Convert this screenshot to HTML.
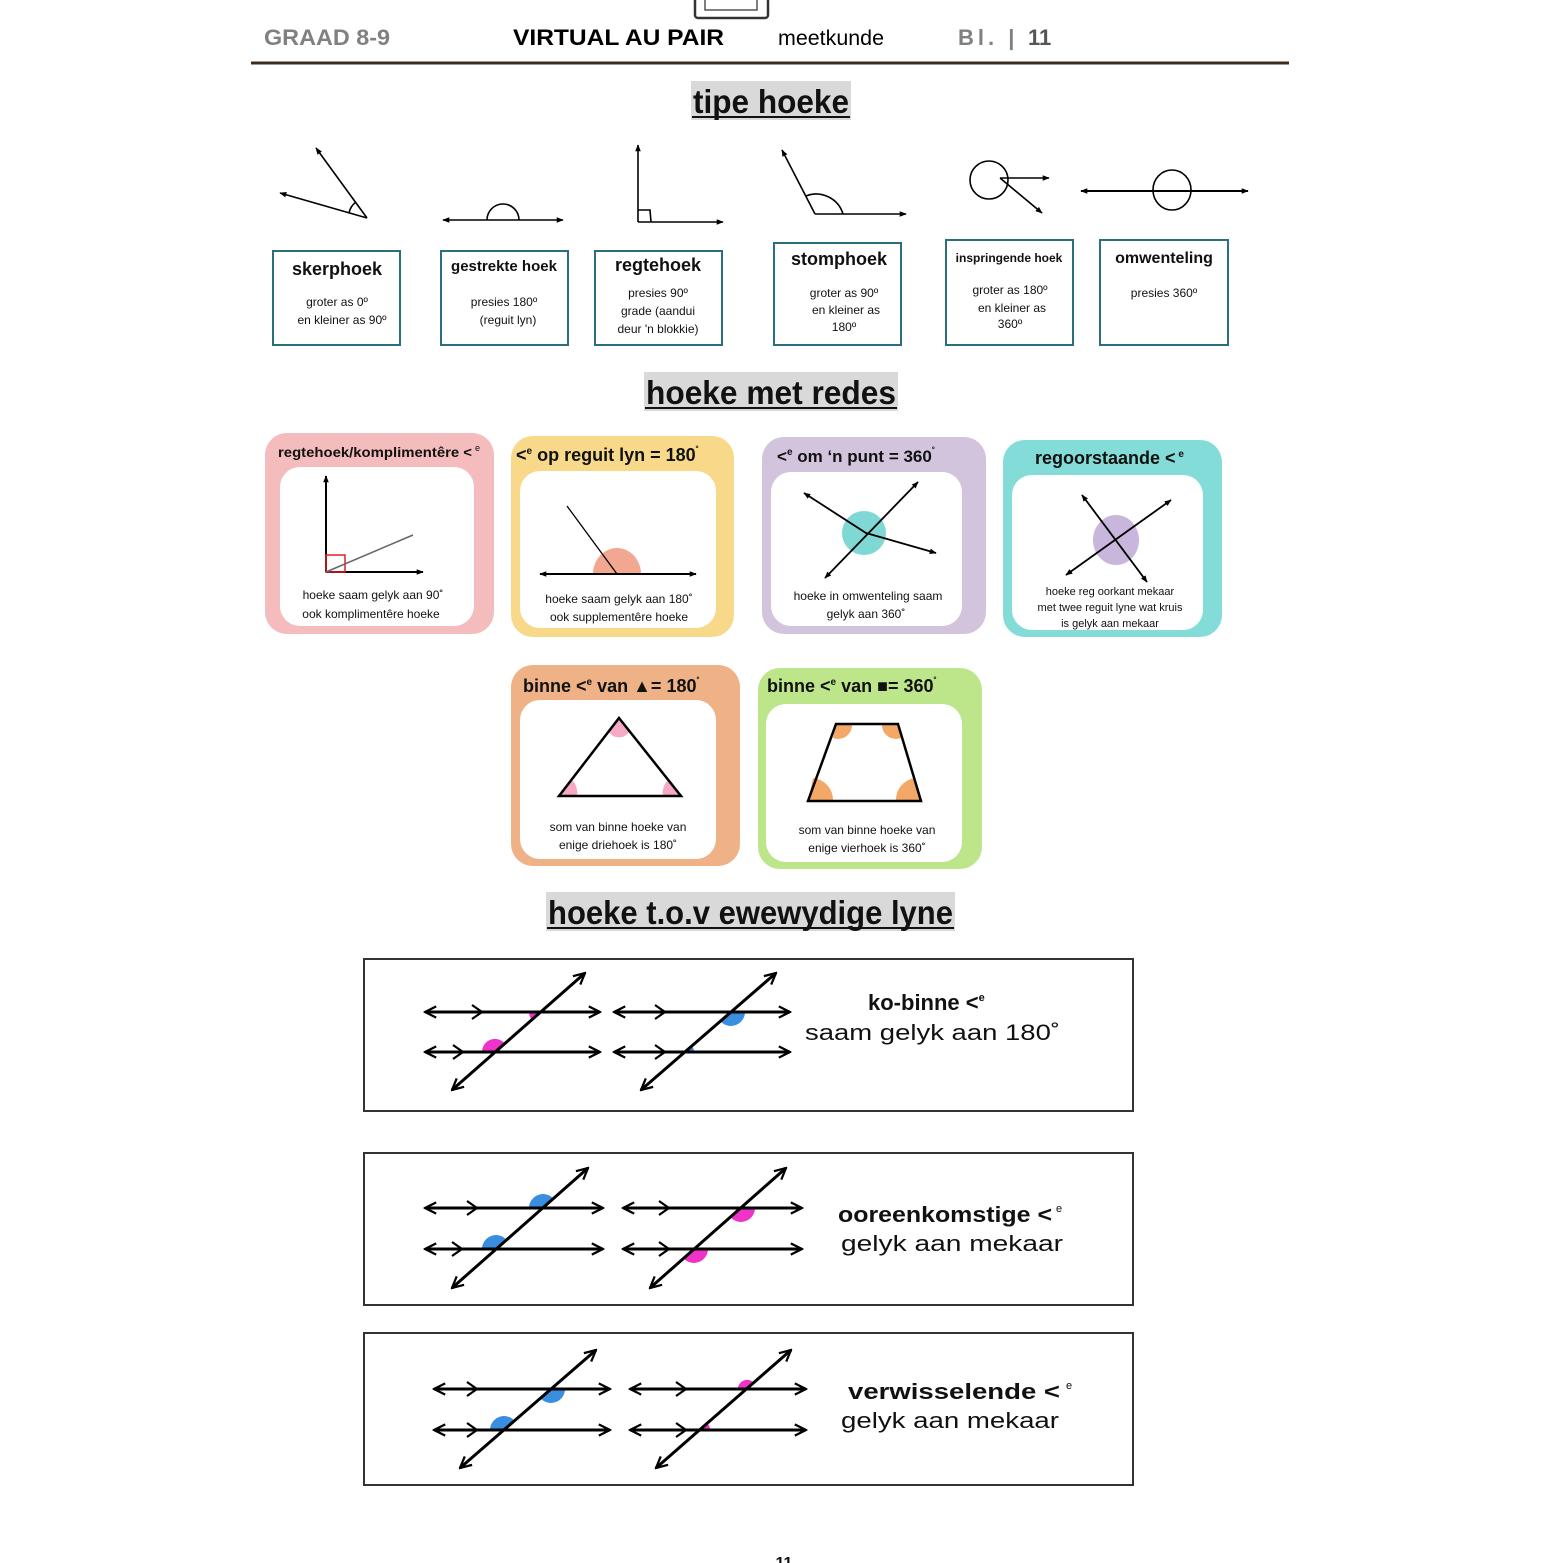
<!DOCTYPE html>
<html><head><meta charset="utf-8"><style>
html,body{margin:0;padding:0;background:#fff}
svg{display:block}
text{font-family:"Liberation Sans",sans-serif}
</style></head><body>
<svg width="1563" height="1563" viewBox="0 0 1563 1563" xmlns="http://www.w3.org/2000/svg">
<defs>
<marker id="b" viewBox="0 0 10 10" refX="9" refY="5" markerWidth="14" markerHeight="14" orient="auto-start-reverse" markerUnits="userSpaceOnUse"><path d="M1,1 L9,5 L1,9" fill="none" stroke="#000" stroke-width="1.6"/></marker>
<marker id="s" viewBox="0 0 10 10" refX="9" refY="5" markerWidth="7" markerHeight="7" orient="auto-start-reverse" markerUnits="userSpaceOnUse"><path d="M0,1 L10,5 L0,9 Z" fill="#000"/></marker>
</defs>

<!-- header -->
<rect x="695" y="-6" width="73" height="24" rx="3" fill="none" stroke="#333" stroke-width="2.5"/>
<rect x="705" y="-4" width="52" height="14" fill="none" stroke="#555" stroke-width="1.5"/>
<text x="264" y="45" font-size="22" font-weight="bold" fill="#808080" textLength="126" lengthAdjust="spacingAndGlyphs">GRAAD 8-9</text>
<text x="513" y="45" font-size="22" font-weight="bold" fill="#000" textLength="211" lengthAdjust="spacingAndGlyphs">VIRTUAL AU PAIR</text>
<text x="778" y="45" font-size="21" fill="#000" textLength="106" lengthAdjust="spacingAndGlyphs">meetkunde</text>
<text x="958" y="45" font-size="22" font-weight="bold" fill="#808080" letter-spacing="4">Bl. |</text>
<text x="1028" y="45" font-size="22" font-weight="bold" fill="#555">11</text>
<line x1="251" y1="63" x2="1289" y2="63" stroke="#3b2b1e" stroke-width="3"/>

<!-- titles -->
<rect x="691" y="81" width="160" height="39" fill="#d9d9d9"/>
<text x="693" y="113" font-size="33" font-weight="bold" fill="#111" textLength="156" lengthAdjust="spacingAndGlyphs">tipe hoeke</text>
<line x1="692" y1="117" x2="850" y2="117" stroke="#111" stroke-width="2"/>
<rect x="644" y="372" width="254" height="39" fill="#d9d9d9"/>
<text x="646" y="404" font-size="33" font-weight="bold" fill="#111" textLength="250" lengthAdjust="spacingAndGlyphs">hoeke met redes</text>
<line x1="645" y1="408" x2="897" y2="408" stroke="#111" stroke-width="2"/>
<rect x="546" y="892" width="409" height="39" fill="#d9d9d9"/>
<text x="548" y="924" font-size="33" font-weight="bold" fill="#111" textLength="405" lengthAdjust="spacingAndGlyphs">hoeke t.o.v ewewydige lyne</text>
<line x1="547" y1="928" x2="954" y2="928" stroke="#111" stroke-width="2"/>

<!-- angle drawings -->
<g stroke="#000" stroke-width="1.6" fill="none">
<line x1="367" y1="218" x2="316" y2="148" marker-end="url(#s)"/>
<line x1="367" y1="218" x2="280" y2="193" marker-end="url(#s)"/>
<path d="M349,213 A18 18 0 0 1 356,202"/>
<line x1="443" y1="220" x2="563" y2="220" marker-start="url(#s)" marker-end="url(#s)"/>
<path d="M487,220 A16 16 0 0 1 519,220"/>
<line x1="638" y1="222" x2="638" y2="145" marker-end="url(#s)"/>
<line x1="638" y1="222" x2="723" y2="222" marker-end="url(#s)"/>
<path d="M638,210 L650,210 L651,222"/>
<line x1="815" y1="214" x2="782" y2="150" marker-end="url(#s)"/>
<line x1="815" y1="214" x2="906" y2="214" marker-end="url(#s)"/>
<path d="M806,196 A28 28 0 0 1 843,214"/>
<circle cx="989" cy="180" r="19"/>
<line x1="1000" y1="178" x2="1049" y2="178" marker-end="url(#s)"/>
<line x1="1000" y1="178" x2="1042" y2="213" marker-end="url(#s)"/>
<line x1="1081" y1="191" x2="1248" y2="191" marker-start="url(#s)" marker-end="url(#s)" stroke-width="2"/>
<ellipse cx="1172" cy="190" rx="19" ry="20"/>
</g>

<!-- type boxes -->
<g fill="#fff" stroke="#2b6f7f" stroke-width="2">
<rect x="273" y="251" width="127" height="94"/>
<rect x="441" y="251" width="127" height="94"/>
<rect x="595" y="251" width="127" height="94"/>
<rect x="774" y="243" width="127" height="102"/>
<rect x="946" y="240" width="127" height="105"/>
<rect x="1100" y="240" width="128" height="105"/>
</g>
<g text-anchor="middle" fill="#111">
<text x="337" y="275" font-size="18" font-weight="bold">skerphoek</text>
<text x="337" y="306" font-size="12">groter as 0º</text>
<text x="342" y="324" font-size="12">en kleiner as 90º</text>
<text x="504" y="271" font-size="15" font-weight="bold">gestrekte hoek</text>
<text x="504" y="306" font-size="12">presies 180º</text>
<text x="508" y="324" font-size="12">(reguit lyn)</text>
<text x="658" y="271" font-size="18" font-weight="bold">regtehoek</text>
<text x="658" y="297" font-size="12">presies 90º</text>
<text x="658" y="315" font-size="12">grade (aandui</text>
<text x="658" y="333" font-size="12">deur 'n blokkie)</text>
<text x="839" y="265" font-size="18" font-weight="bold">stomphoek</text>
<text x="844" y="297" font-size="12">groter as 90º</text>
<text x="846" y="314" font-size="12">en kleiner as</text>
<text x="844" y="331" font-size="12">180º</text>
<text x="1009" y="262" font-size="12" font-weight="bold">inspringende hoek</text>
<text x="1010" y="294" font-size="12">groter as 180º</text>
<text x="1012" y="312" font-size="12">en kleiner as</text>
<text x="1010" y="328" font-size="12">360º</text>
<text x="1164" y="263" font-size="16" font-weight="bold">omwenteling</text>
<text x="1164" y="297" font-size="12">presies 360º</text>
</g>

<!-- reason cards -->
<rect x="265" y="433" width="229" height="201" rx="22" fill="#f4bcbc"/>
<rect x="280" y="467" width="194" height="159" rx="20" fill="#fff"/>
<rect x="511" y="436" width="223" height="201" rx="22" fill="#f8d98a"/>
<rect x="520" y="471" width="196" height="157" rx="20" fill="#fff"/>
<rect x="762" y="437" width="224" height="197" rx="22" fill="#d3c4dd"/>
<rect x="771" y="472" width="191" height="154" rx="20" fill="#fff"/>
<rect x="1003" y="440" width="219" height="197" rx="22" fill="#84dcd8"/>
<rect x="1012" y="475" width="191" height="155" rx="20" fill="#fff"/>
<rect x="511" y="665" width="229" height="201" rx="22" fill="#efb287"/>
<rect x="520" y="700" width="196" height="159" rx="20" fill="#fff"/>
<rect x="758" y="668" width="224" height="201" rx="22" fill="#bde68b"/>
<rect x="766" y="704" width="196" height="158" rx="20" fill="#fff"/>

<g fill="#111">
<text x="278" y="457" font-size="13.5" font-weight="bold" textLength="194" lengthAdjust="spacingAndGlyphs">regtehoek/komplimentêre &lt;</text><text x="475" y="451" font-size="9">e</text>
<text x="516" y="461" font-size="18" font-weight="bold">&lt;<tspan font-size="10" dy="-7">e</tspan><tspan dy="7"> op reguit lyn = 180</tspan><tspan font-size="10" dy="-7">˚</tspan></text>
<text x="777" y="462" font-size="17" font-weight="bold">&lt;<tspan font-size="10" dy="-7">e</tspan><tspan dy="7"> om ‘n punt = 360</tspan><tspan font-size="10" dy="-7">˚</tspan></text>
<text x="1035" y="464" font-size="18" font-weight="bold">regoorstaande &lt;<tspan font-size="10" dy="-7"> e</tspan></text>
<text x="523" y="692" font-size="18" font-weight="bold">binne &lt;<tspan font-size="10" dy="-7">e</tspan><tspan dy="7">  van </tspan><tspan font-size="18">▲= 180</tspan><tspan font-size="10" dy="-7">˚</tspan></text>
<text x="767" y="692" font-size="18" font-weight="bold">binne &lt;<tspan font-size="10" dy="-7">e</tspan><tspan dy="7">  van ■= 360</tspan><tspan font-size="10" dy="-7">˚</tspan></text>
</g>
<g fill="#111" font-size="12" text-anchor="middle">
<text x="373" y="599">hoeke saam gelyk aan 90˚</text>
<text x="371" y="618">ook komplimentêre hoeke</text>
<text x="619" y="603">hoeke saam gelyk aan 180˚</text>
<text x="619" y="621">ook supplementêre hoeke</text>
<text x="868" y="600">hoeke in omwenteling saam</text>
<text x="866" y="618">gelyk aan  360˚</text>
<text x="1110" y="595" font-size="11">hoeke reg oorkant mekaar</text>
<text x="1110" y="611" font-size="11">met twee reguit lyne wat kruis</text>
<text x="1110" y="627" font-size="11">is gelyk aan mekaar</text>
<text x="618" y="831">som van binne hoeke van</text>
<text x="618" y="849">enige driehoek is  180˚</text>
<text x="867" y="834">som van binne hoeke van</text>
<text x="867" y="852">enige vierhoek is  360˚</text>
</g>

<!-- card drawings -->
<g stroke="#000" stroke-width="2" fill="none">
<line x1="326" y1="572" x2="326" y2="476" marker-end="url(#s)"/>
<line x1="326" y1="572" x2="423" y2="572" marker-end="url(#s)"/>
<rect x="326" y="555" width="19" height="17" stroke="#e02020" stroke-width="1.5"/>
<line x1="326" y1="572" x2="413" y2="535" stroke="#666" stroke-width="1.5"/>
</g>
<path d="M593,574 A24 26 0 0 1 641,574 Z" fill="#f2a890"/>
<g stroke="#000" stroke-width="2" fill="none">
<line x1="540" y1="574" x2="696" y2="574" marker-start="url(#s)" marker-end="url(#s)"/>
<line x1="567" y1="506" x2="617" y2="574" stroke-width="1.3"/>
</g>
<ellipse cx="864" cy="533" rx="22" ry="22" fill="#7fd8d4"/>
<g stroke="#000" stroke-width="1.8" fill="none">
<polyline points="804,493 866,533 936,553" marker-start="url(#s)" marker-end="url(#s)"/>
<line x1="918" y1="482" x2="825" y2="578" marker-start="url(#s)" marker-end="url(#s)"/>
</g>
<ellipse cx="1116" cy="540" rx="23" ry="25" fill="#c8b6dc"/>
<g stroke="#000" stroke-width="1.8" fill="none">
<line x1="1082" y1="495" x2="1147" y2="582" marker-start="url(#s)" marker-end="url(#s)"/>
<line x1="1171" y1="500" x2="1066" y2="575" marker-start="url(#s)" marker-end="url(#s)"/>
</g>
<!-- triangle -->
<path d="M609,732 A12 12 0 0 0 629,732 L619,718 Z" fill="#f7a9c6"/>
<path d="M559,796 L571,779 A18 18 0 0 1 577,796 Z" fill="#f7a9c6"/>
<path d="M681,796 L669,779 A18 18 0 0 0 663,796 Z" fill="#f7a9c6"/>
<polygon points="619,718 559,796 681,796" fill="none" stroke="#000" stroke-width="2.5"/>
<!-- trapezoid -->
<path d="M836,724 L852,724 A14 14 0 0 1 833,738 Z" fill="#f3a867"/>
<path d="M898,724 L882,724 A14 14 0 0 0 901,738 Z" fill="#f3a867"/>
<path d="M808,801 L813,778 A22 22 0 0 1 833,801 Z" fill="#f3a867"/>
<path d="M921,801 L915,778 A22 22 0 0 0 896,801 Z" fill="#f3a867"/>
<polygon points="836,724 898,724 921,801 808,801" fill="none" stroke="#000" stroke-width="2.5"/>

<!-- parallel boxes -->
<g fill="#fff" stroke="#333" stroke-width="2">
<rect x="364" y="959" width="769" height="152"/>
<rect x="364" y="1153" width="769" height="152"/>
<rect x="364" y="1333" width="769" height="152"/>
</g>

<!-- sectors -->
<g>
<path d="M541,1012 L529,1012 A12 12 0 0 0 532,1020 Z" fill="#f033c8"/>
<path d="M495,1052 L482,1052 A13 13 0 0 1 504.8,1043.4 Z" fill="#f033c8"/>
<path d="M731,1012 L745,1012 A14 14 0 0 1 720.5,1021.2 Z" fill="#3a8ee0"/>
<path d="M685,1052 L691.8,1046 A9 9 0 0 1 694,1052 Z" fill="#3a8ee0"/>
<path d="M543,1208 L529,1208 A14 14 0 0 1 553.5,1198.8 Z" fill="#3a8ee0"/>
<path d="M496,1249 L482,1249 A14 14 0 0 1 506.5,1239.8 Z" fill="#3a8ee0"/>
<path d="M741,1208 L755,1208 A14 14 0 0 1 730.5,1217.2 Z" fill="#f033c8"/>
<path d="M694,1249 L708,1249 A14 14 0 0 1 683.5,1258.2 Z" fill="#f033c8"/>
<path d="M551,1389 L565,1389 A14 14 0 0 1 540.5,1398.2 Z" fill="#3a8ee0"/>
<path d="M504,1430 L490,1430 A14 14 0 0 1 514.5,1420.8 Z" fill="#3a8ee0"/>
<path d="M747,1389 L738,1389 A9 9 0 0 1 753.8,1383 Z" fill="#f033c8"/>
<path d="M700,1430 L707.5,1423.4 A10 10 0 0 1 710,1430 Z" fill="#f033c8"/>
</g>

<g stroke="#000" stroke-width="3" fill="none">
<line x1="425" y1="1012" x2="600" y2="1012" marker-start="url(#b)" marker-end="url(#b)"/>
<line x1="425" y1="1052" x2="600" y2="1052" marker-start="url(#b)" marker-end="url(#b)"/>
<line x1="452" y1="1090" x2="585" y2="973" marker-start="url(#b)" marker-end="url(#b)"/>
<line x1="614" y1="1012" x2="790" y2="1012" marker-start="url(#b)" marker-end="url(#b)"/>
<line x1="614" y1="1052" x2="790" y2="1052" marker-start="url(#b)" marker-end="url(#b)"/>
<line x1="641" y1="1090" x2="776" y2="973" marker-start="url(#b)" marker-end="url(#b)"/>
<line x1="425" y1="1208" x2="603" y2="1208" marker-start="url(#b)" marker-end="url(#b)"/>
<line x1="425" y1="1249" x2="603" y2="1249" marker-start="url(#b)" marker-end="url(#b)"/>
<line x1="452" y1="1288" x2="588" y2="1168" marker-start="url(#b)" marker-end="url(#b)"/>
<line x1="623" y1="1208" x2="802" y2="1208" marker-start="url(#b)" marker-end="url(#b)"/>
<line x1="623" y1="1249" x2="802" y2="1249" marker-start="url(#b)" marker-end="url(#b)"/>
<line x1="650" y1="1288" x2="786" y2="1168" marker-start="url(#b)" marker-end="url(#b)"/>
<line x1="434" y1="1389" x2="610" y2="1389" marker-start="url(#b)" marker-end="url(#b)"/>
<line x1="434" y1="1430" x2="610" y2="1430" marker-start="url(#b)" marker-end="url(#b)"/>
<line x1="460" y1="1468" x2="596" y2="1350" marker-start="url(#b)" marker-end="url(#b)"/>
<line x1="630" y1="1389" x2="806" y2="1389" marker-start="url(#b)" marker-end="url(#b)"/>
<line x1="630" y1="1430" x2="806" y2="1430" marker-start="url(#b)" marker-end="url(#b)"/>
<line x1="656" y1="1468" x2="791" y2="1350" marker-start="url(#b)" marker-end="url(#b)"/>
</g>
<!-- parallel marks -->
<g stroke="#000" stroke-width="2.2" fill="none">
<path d="M472,1005 L482,1012 L472,1019"/><path d="M453,1045 L463,1052 L453,1059"/>
<path d="M655,1005 L665,1012 L655,1019"/><path d="M655,1045 L665,1052 L655,1059"/>
<path d="M467,1201 L477,1208 L467,1215"/><path d="M452,1242 L462,1249 L452,1256"/>
<path d="M659,1201 L669,1208 L659,1215"/><path d="M659,1242 L669,1249 L659,1256"/>
<path d="M467,1382 L477,1389 L467,1396"/><path d="M467,1423 L477,1430 L467,1437"/>
<path d="M676,1382 L686,1389 L676,1396"/><path d="M676,1423 L686,1430 L676,1437"/>
</g>

<g fill="#111">
<text x="868" y="1010" font-size="22" font-weight="bold">ko-binne &lt;<tspan font-size="11" dy="-9">e</tspan></text>
<text x="805" y="1040" font-size="22" textLength="255" lengthAdjust="spacingAndGlyphs">saam gelyk aan 180˚</text>
<text x="838" y="1222" font-size="22" font-weight="bold" textLength="214" lengthAdjust="spacingAndGlyphs">ooreenkomstige &lt;</text><text x="1056" y="1212" font-size="11">e</text>
<text x="841" y="1251" font-size="22" textLength="222" lengthAdjust="spacingAndGlyphs">gelyk aan mekaar</text>
<text x="848" y="1399" font-size="22" font-weight="bold" textLength="212" lengthAdjust="spacingAndGlyphs">verwisselende  &lt;</text><text x="1066" y="1389" font-size="11">e</text>
<text x="841" y="1428" font-size="22" textLength="218" lengthAdjust="spacingAndGlyphs">gelyk aan mekaar</text>
<text x="784" y="1568" font-size="16" font-weight="bold" text-anchor="middle">11</text>
</g>
</svg>
</body></html>
